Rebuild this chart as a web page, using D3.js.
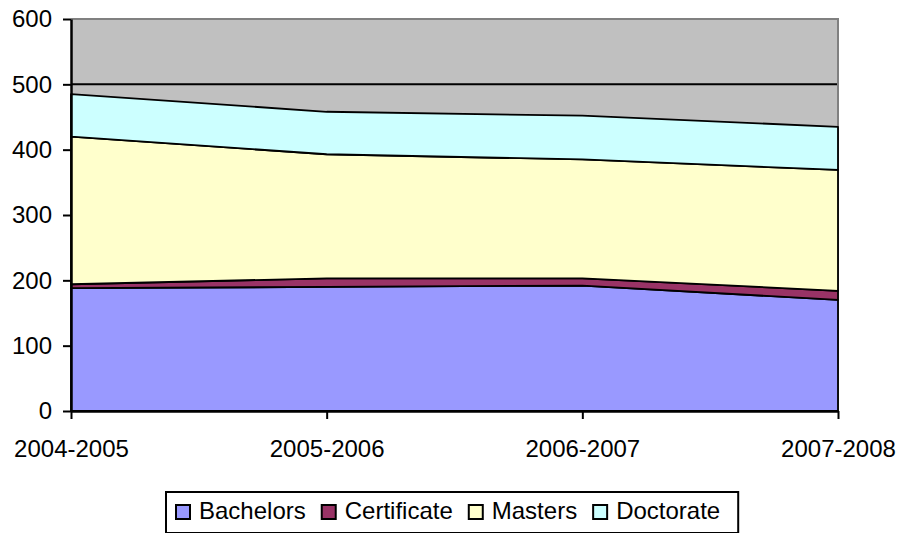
<!DOCTYPE html>
<html>
<head>
<meta charset="utf-8">
<script src="https://cdn.jsdelivr.net/npm/d3@7/dist/d3.min.js"></script>
<style>
  html, body { margin: 0; padding: 0; background: #fff; }
  svg { display: block; font-family: "Liberation Sans", Arial, sans-serif; }
</style>
</head>
<body>
<svg id="chart" width="903" height="533"></svg>
<script>
const categories = ["2004-2005", "2005-2006", "2006-2007", "2007-2008"];
const seriesNames = ["Bachelors", "Certificate", "Masters", "Doctorate"];
const bachelors   = [188, 190, 192, 170];
const certificate = [6, 13, 11, 14];
const masters     = [226, 190, 182, 185];
const doctorate   = [65, 65, 67, 66];
const yTicks = [0, 100, 200, 300, 400, 500, 600];
const colors = ["#9999FF", "#993366", "#FFFFCC", "#CCFFFF"];

const svg = d3.select("#chart");
const pLeft = 71, pRight = 838, pTop = 19, pBottom = 411;

const x = d3.scalePoint().domain(categories).range([pLeft, pRight]);
const y = d3.scaleLinear().domain([0, 600]).range([pBottom, pTop]);

const table = categories.map((c, i) => ({
  cat: c, Bachelors: bachelors[i], Certificate: certificate[i],
  Masters: masters[i], Doctorate: doctorate[i]
}));
const stacked = d3.stack().keys(seriesNames)(table);

// plot background
svg.append("rect").attr("x", pLeft).attr("y", pTop)
  .attr("width", pRight - pLeft).attr("height", pBottom - pTop)
  .attr("fill", "#C0C0C0");

// gridlines
svg.append("g").selectAll("line").data(yTicks.filter(t => t > 0 && t < 600)).join("line")
  .attr("x1", pLeft).attr("x2", pRight)
  .attr("y1", d => y(d)).attr("y2", d => y(d))
  .attr("stroke", "#000").attr("stroke-width", 2);

// top / right border
svg.append("path")
  .attr("d", `M${pLeft},${y(600)}H${pRight}V${pBottom}`)
  .attr("fill", "none").attr("stroke", "#808080").attr("stroke-width", 2);

// areas
const area = d3.area()
  .x(d => x(d.data.cat))
  .y0(d => y(d[0]))
  .y1(d => y(d[1]));

svg.append("g").selectAll("path").data(stacked).join("path")
  .attr("d", area)
  .attr("fill", (d, i) => colors[i])
  .attr("stroke", "#000").attr("stroke-width", 1.8)
  .attr("stroke-linejoin", "round");

// axes
const yAxis = d3.axisLeft(y).tickValues(yTicks).tickSize(8).tickSizeOuter(0).tickPadding(11);
const gy = svg.append("g").attr("transform", `translate(${pLeft},0)`).call(yAxis);
gy.select(".domain").attr("stroke", "#000").attr("stroke-width", 2.5);
gy.selectAll(".tick line").attr("stroke", "#000").attr("stroke-width", 2);
gy.selectAll("text").attr("font-size", 24).attr("fill", "#000")
  .attr("font-family", "Liberation Sans, Arial, sans-serif");

const xAxis = d3.axisBottom(x).tickSize(8).tickSizeOuter(0).tickPadding(21);
const gx = svg.append("g").attr("transform", `translate(0,${pBottom})`).call(xAxis);
gx.select(".domain").attr("stroke", "#000").attr("stroke-width", 2.5);
gx.selectAll(".tick line").attr("stroke", "#000").attr("stroke-width", 2);
gx.selectAll("text").attr("font-size", 24).attr("fill", "#000")
  .attr("font-family", "Liberation Sans, Arial, sans-serif");

// legend
const lg = svg.append("g");
const legendBox = lg.append("rect")
  .attr("fill", "#fff").attr("stroke", "#000").attr("stroke-width", 2);
let cx = 176;
const itemY = 505;
seriesNames.forEach((name, i) => {
  lg.append("rect").attr("x", cx).attr("y", itemY).attr("width", 14).attr("height", 14)
    .attr("fill", colors[i]).attr("stroke", "#000").attr("stroke-width", 2);
  const t = lg.append("text").attr("x", cx + 23).attr("y", itemY + 14)
    .attr("font-size", 24).attr("fill", "#000").text(name);
  const w = t.node().getComputedTextLength();
  cx = cx + 23 + w + 16;
});
legendBox.attr("x", 166).attr("y", 492).attr("width", cx - 16 - 166 + 18).attr("height", 41);
</script>
</body>
</html>
